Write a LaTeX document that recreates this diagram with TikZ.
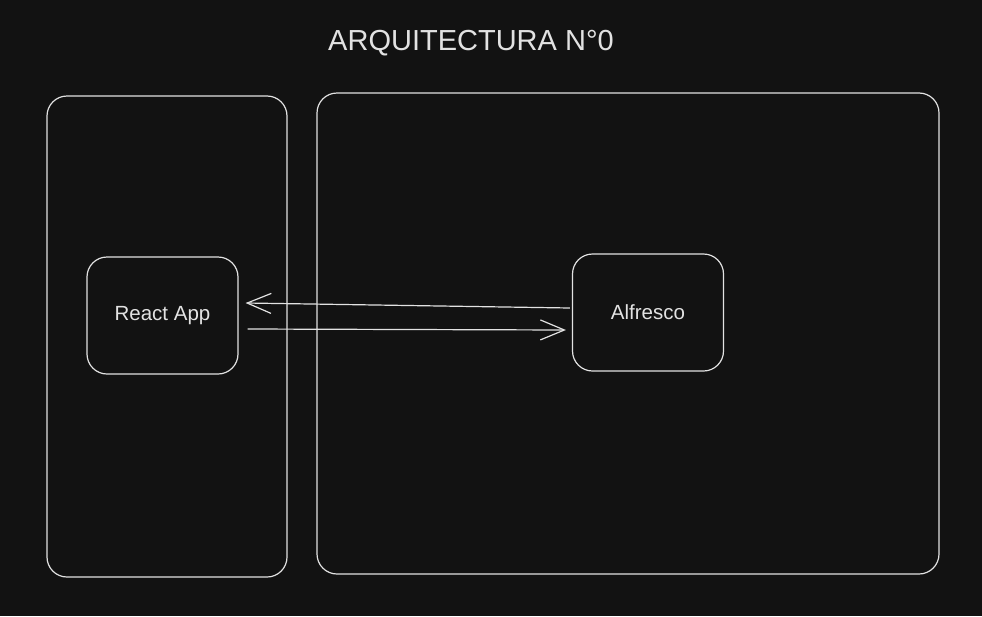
\documentclass[tikz,border=0pt]{standalone}
\usepackage{fontspec}
\setmainfont{Liberation Sans}
\usepackage{xcolor}
\usetikzlibrary{arrows.meta, positioning}
\definecolor{fondo}{HTML}{121212}
\definecolor{trazo}{HTML}{E2E2E2}
\tikzset{
    caja/.style = {draw = trazo, line width = 1.2pt, rounded corners = 20pt},
    nodo/.style = {caja, minimum width = 151pt, minimum height = 117pt, text = trazo, font = \fontsize{20.5}{24}\selectfont},
    flecha/.style = {draw = trazo, line width = 1.2pt, -{Straight Barb[length = 24pt, width = 20pt, line width = 1.2pt]}}
}

\begin{document}
\begin{tikzpicture}[x = 1pt, y = -1pt]
    % Fondo
    \fill[fondo] (0,0) rectangle (982,616);
    \useasboundingbox (0,0) rectangle (982,616);
    % Titulo
    \node[text = trazo, font = \fontsize{29}{34}\selectfont] (titulo) at (471,43) {ARQUITECTURA N°0};
    % Contenedor cliente
    \draw[caja] (47,96) rectangle (287,577);
    % Contenedor servidor
    \draw[caja] (317,93) rectangle (939,574);
    % Nodos
    \node[nodo] (react) at (162.5,315.5) {React App};
    \node[nodo] (alfresco) at (648,312.5) {Alfresco};
    % Flechas
    \draw[flecha] ([xshift = -2pt, yshift = 4.5pt]alfresco.west) -- ([xshift = 7pt, yshift = 12.5pt]react.east);
    \draw[flecha] ([xshift = 9pt, yshift = -13.5pt]react.east) -- ([xshift = -6pt, yshift = -17.5pt]alfresco.west);
\end{tikzpicture}
\end{document}
